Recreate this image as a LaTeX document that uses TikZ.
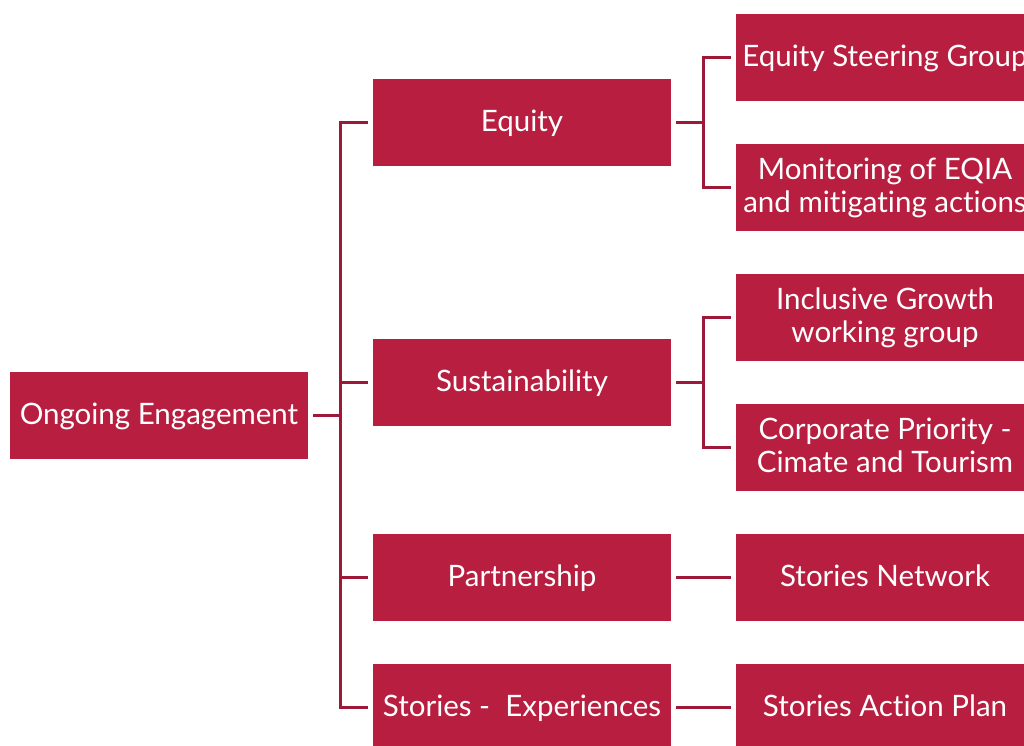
\documentclass[tikz,border=0pt]{standalone}
\usepackage{fontspec}
\setmainfont[Ligatures=NoCommon]{Lato}
\definecolor{crimson}{RGB}{183,30,64}
\definecolor{linecol}{RGB}{158,24,56}
\newcommand{\bxtext}[1]{\raisebox{0pt}[\dimexpr\height+5pt\relax][\depth]{\begin{tabular}{@{}c@{}}#1\end{tabular}}}
\begin{document}
\begin{tikzpicture}[x=1pt,y=-1pt,
  box/.style={fill=crimson,draw=none,text=white,minimum width=298pt,minimum height=87pt,
    inner sep=0pt,font=\fontsize{29.5}{33}\selectfont},
  conn/.style={draw=linecol,line width=3pt}]
\path[use as bounding box,clip] (0,0) rectangle (1024,745);
\fill[white] (0,0) rectangle (1024,745);
% root
\node[box] (root) at (159,415) {\bxtext{Ongoing Engagement}};
% level 1
\node[box] (equity) at (522,122) {\bxtext{Equity}};
\node[box] (sus) at (522,382) {\bxtext{Sustainability}};
\node[box] (part) at (522,577) {\bxtext{Partnership}};
\node[box] (stories) at (522,707) {\bxtext{Stories -\ \ Experiences}};
% level 2
\node[box] (esg) at (885,57) {\bxtext{Equity Steering Group}};
\node[box] (eqia) at (885,187) {\bxtext{Monitoring of EQIA\\and mitigating actions}};
\node[box] (igw) at (885,317) {\bxtext{Inclusive Growth\\working group}};
\node[box] (corp) at (885,447) {\bxtext{Corporate Priority -\\Cimate and Tourism}};
\node[box] (net) at (885,577) {\bxtext{Stories Network}};
\node[box] (sap) at (885,707) {\bxtext{Stories Action Plan}};
% connectors root -> level 1
\draw[conn] ([xshift=5pt]root.east) -- ++(28,0);
\draw[conn] ([xshift=-5pt]equity.west) -- ++(-27,0) |- ([xshift=-5pt]stories.west);
\draw[conn] ([xshift=-5pt]sus.west) -- ++(-27,0);
\draw[conn] ([xshift=-5pt]part.west) -- ++(-27,0);
% equity -> level 2
\draw[conn] ([xshift=5pt]equity.east) -- ++(28,0);
\draw[conn] ([xshift=-5pt]esg.west) -- ++(-27,0) |- ([xshift=-5pt]eqia.west);
% sustainability -> level 2
\draw[conn] ([xshift=5pt]sus.east) -- ++(28,0);
\draw[conn] ([xshift=-5pt]igw.west) -- ++(-27,0) |- ([xshift=-5pt]corp.west);
% partnership, stories
\draw[conn] ([xshift=5pt]part.east) -- ([xshift=-5pt]net.west);
\draw[conn] ([xshift=5pt]stories.east) -- ([xshift=-5pt]sap.west);
\end{tikzpicture}
\end{document}
